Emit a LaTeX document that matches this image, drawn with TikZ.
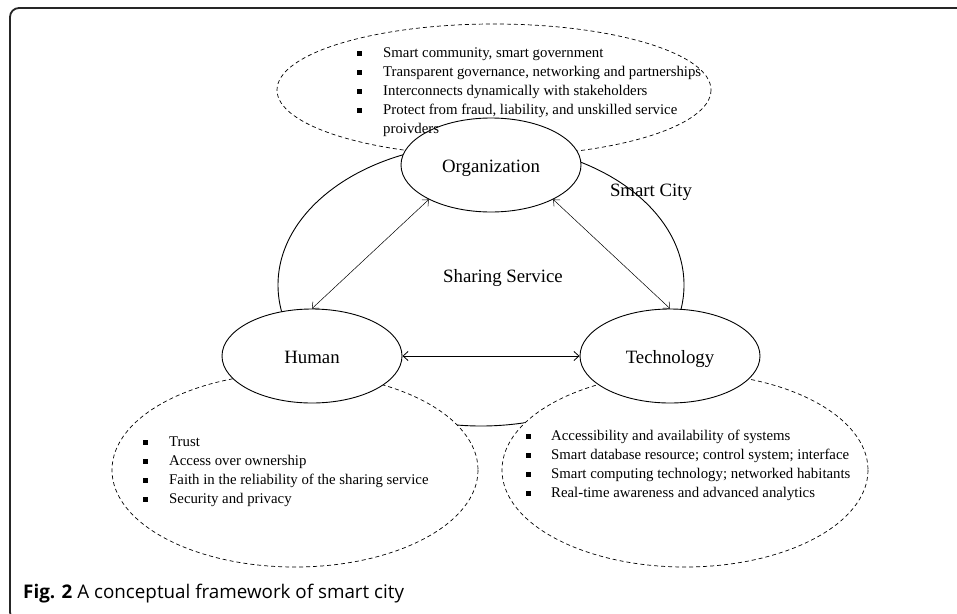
\documentclass[tikz,border=0pt]{standalone}
\usepackage{fontspec}
\setmainfont{Liberation Serif}
\newfontfamily\capfont{Open Sans}
\usetikzlibrary{shapes.geometric,arrows.meta}
\newcommand{\bul}{\rule[1.5pt]{5pt}{5pt}}

\begin{document}
\begin{tikzpicture}[x=1pt,y=-1pt,>={Straight Barb[length=5pt,width=9pt]},
    part/.style={ellipse,draw,fill=white,line width=0.9pt,minimum width=180pt,minimum height=94pt,inner sep=0pt,text height=15pt,text depth=0pt,font=\fontsize{18.8}{22}\selectfont},
    zone/.style={draw,dash pattern=on 4pt off 3pt,fill=white,line width=0.7pt},
    items/.style={anchor=base west,inner sep=0pt,font=\fontsize{14.8}{19}\selectfont},
    tag/.style={inner sep=0pt,font=\fontsize{18.8}{22}\selectfont}]
    \useasboundingbox (0,0) rectangle (957,613);
    \clip (0,0) rectangle (957,613);
    \draw[line width=1.8pt,rounded corners=9pt,black!85] (10,8) rectangle (1100,621);
    \draw[line width=0.9pt] (481,285) ellipse [x radius=203,y radius=141];
    \draw[zone] (494,90) ellipse [x radius=217,y radius=66];
    \draw[zone] (295,470) ellipse [x radius=183,y radius=97];
    \draw[zone] (685,470) ellipse [x radius=183,y radius=97];
    \node[part] (org) at (491,165) {Organization};
    \node[part] (hum) at (312,356) {Human};
    \node[part] (tech) at (670,356) {Technology};
    \path[<->,line width=0.5pt]
    (hum.north) edge (org.-151)
    (org.-29) edge (tech.north)
    (hum) edge[line width=0.8pt] (tech)
;
    \node[tag] (share) at (503,278) {Sharing Service};
    \node[tag] (city) at (651,192) {Smart City};
    \node[items] (orgitems) at (357,57) {\begin{tabular}[t]{@{}l@{\hspace{21pt}}l@{}}
        \bul & Smart community, smart government\\
        \bul & Transparent governance, networking and partnerships\\
        \bul & Interconnects dynamically with stakeholders\\
        \bul & Protect from fraud, liability, and unskilled service\\
             & proivders
    \end{tabular}};
    \node[items] (humitems) at (143,446) {\begin{tabular}[t]{@{}l@{\hspace{21pt}}l@{}}
        \bul & Trust\\
        \bul & Access over ownership\\
        \bul & Faith in the reliability of the sharing service\\
        \bul & Security and privacy
    \end{tabular}};
    \node[items] (techitems) at (526,440) {\begin{tabular}[t]{@{}l@{\hspace{20pt}}l@{}}
        \bul & Accessibility and availability of systems\\
        \bul & Smart database resource; control system; interface\\
        \bul & Smart computing technology; networked habitants\\
        \bul & Real-time awareness and advanced analytics
    \end{tabular}};
    \node[anchor=base west,inner sep=0pt,font=\capfont\fontsize{18.8}{22}\selectfont] (caption) at (23,598) {\textbf{Fig. 2} A conceptual framework of smart city};
  \end{tikzpicture}
\end{document}
